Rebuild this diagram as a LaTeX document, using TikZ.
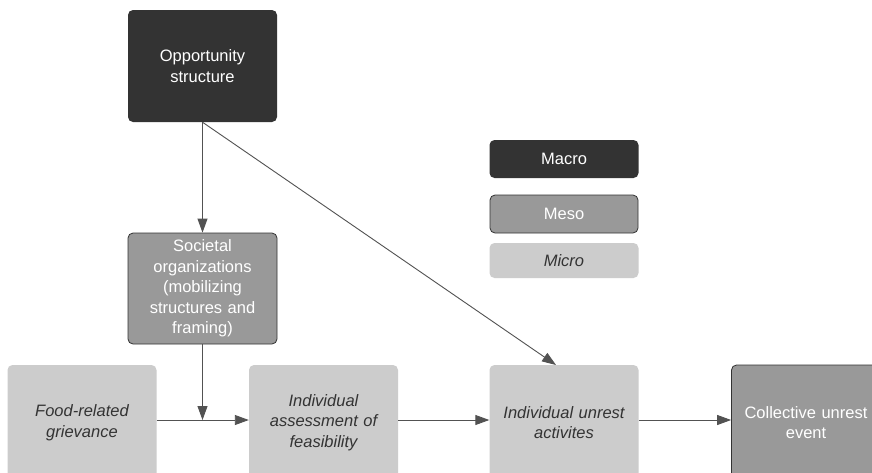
\documentclass[tikz,border=0pt]{standalone}
\usepackage{fontspec}
\setmainfont{Liberation Sans}
\usetikzlibrary{arrows.meta}

\definecolor{macrocol}{HTML}{333333}
\definecolor{mesocol}{HTML}{999999}
\definecolor{microcol}{HTML}{CCCCCC}

\tikzset{
  box/.style={rounded corners=5pt,minimum width=149pt,align=center,font=\fontsize{16.5}{20.5}\selectfont},
  macro/.style={box,fill=macrocol,text=white},
  meso/.style={box,fill=mesocol,draw=macrocol,line width=0.8pt,text=white},
  micro/.style={box,fill=microcol,text=macrocol,font=\fontsize{16.5}{20.5}\selectfont\itshape},
  link/.style={draw=macrocol!85,line width=0.9pt,-{Triangle[length=14pt,width=10pt]}}
}

\begin{document}
\begin{tikzpicture}[x=1pt,y=1pt]
  \useasboundingbox (0,0) rectangle (872,-472);
  \clip (0,0) rectangle (872,-472);
  \fill[white] (0,0) rectangle (872,-472);

  \node[macro,minimum height=112pt,text width=140pt] (opp) at (202.5,-66){Opportunity\\structure};
  \node[meso,minimum height=111pt,text width=140pt] (soc) at (202.5,-288.5){Societal\\organizations\\(mobilizing\\structures and\\framing)};

  \node[micro,minimum height=115pt,text width=140pt] (food) at (82,-422.5){Food-related\\grievance};
  \node[micro,minimum height=115pt,text width=140pt] (assess) at (323.5,-422.5){Individual\\assessment of\\feasibility};
  \node[micro,minimum height=115pt,text width=140pt] (unrest) at (564,-422.5){Individual unrest\\activites};
  \node[meso,minimum height=115pt,text width=141pt] (event) at (806,-422.5){Collective unrest\\event};

  \node[macro,minimum height=38pt] (lmacro) at (564,-159){Macro};
  \node[meso,minimum height=38pt,minimum width=148pt] (lmeso) at (564,-214){Meso};
  \node[micro,minimum height=35pt] (lmicro) at (564,-260.5){Micro};

  \coordinate (join) at (soc.south |- 0,-420);
  \draw[link] (opp.south) -- (soc.north);
  \draw[link] (opp.south) -- (556,-365);
  \draw[link] (soc.south) -- (join);
  \draw[link] (food.east |- join) -- (assess.west |- join);
  \draw[link] (assess.east |- join) -- (unrest.west |- join);
  \draw[link] (unrest.east |- join) -- (event.west |- join);
\end{tikzpicture}
\end{document}
